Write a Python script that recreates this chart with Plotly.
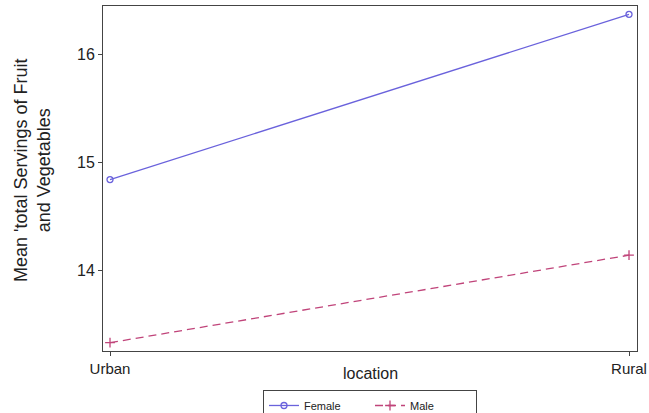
import plotly.graph_objects as go

locations = ["Urban", "Rural"]
female = [14.84, 16.37]
male = [13.33, 14.14]
y_ticks = [14, 15, 16]

font = "Liberation Sans, Arial, sans-serif"

fig = go.Figure()
fig.add_trace(go.Scatter(
    x=locations, y=female, name="Female", mode="lines+markers",
    line=dict(color="#6a62dc", width=1.3),
    marker=dict(symbol="circle-open", size=6, color="#6a62dc", line=dict(width=1.3)),
))
fig.add_trace(go.Scatter(
    x=locations, y=male, name="Male", mode="lines+markers",
    line=dict(color="#c0447a", width=1.3, dash="8px,5px"),
    marker=dict(symbol="cross-thin-open", size=7, color="#c0447a", line=dict(width=1.3, color="#c0447a")),
))

fig.update_layout(
    width=649, height=413,
    margin=dict(l=103, r=12, t=6, b=62, autoexpand=False),
    paper_bgcolor="white", plot_bgcolor="white",
    font=dict(family=font, color="#222222"),
    showlegend=True,
    legend=dict(
        orientation="h", x=0.5, xanchor="center", y=-0.113, yanchor="top",
        bordercolor="#444444", borderwidth=1, font=dict(size=11, color="#222222"),
        itemwidth=30, tracegroupgap=0, entrywidth=61,
    ),
    xaxis=dict(
        type="category", range=[-0.0135, 1.0154], automargin=False,
        showline=True, linecolor="#444444", linewidth=1, mirror=True,
        ticks="outside", ticklen=4, tickcolor="#444444",
        showgrid=False, zeroline=False,
        tickfont=dict(size=15),
    ),
    yaxis=dict(
        range=[13.253, 16.447], automargin=False,
        tickvals=y_ticks, ticktext=[str(t) for t in y_ticks],
        showline=True, linecolor="#444444", linewidth=1, mirror=True,
        ticks="outside", ticklen=4, tickcolor="#444444",
        showgrid=False, zeroline=False,
        tickfont=dict(size=16),
    ),
    annotations=[
        dict(text="location", xref="paper", yref="paper", x=0.5, y=0,
             xanchor="center", yanchor="middle", yshift=-22, showarrow=False,
             font=dict(size=16, color="#222222")),
        dict(text="Mean 'total Servings of Fruit<br>and Vegetables", xref="paper", yref="paper",
             x=0, y=0.5246, xanchor="center", yanchor="middle", xshift=-71,
             textangle=-90, showarrow=False, font=dict(size=18, color="#222222")),
    ],
)

fig.write_html(
    "out.html",
    config={"displayModeBar": False},
    post_script="document.body.style.margin='0';document.body.style.overflow='hidden';",
)
